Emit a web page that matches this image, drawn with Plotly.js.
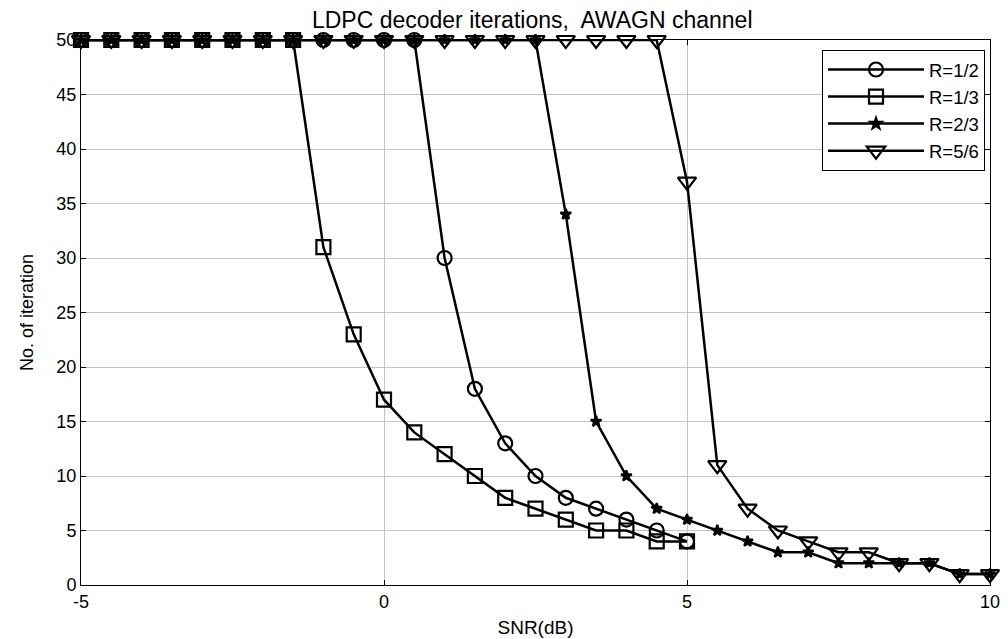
<!DOCTYPE html>
<html>
<head>
<meta charset="utf-8">
<script src="https://cdn.plot.ly/plotly-3.0.1.min.js"></script>
<style>html,body{margin:0;padding:0;background:#fff;}#chart{width:1008px;height:639px;}</style>
</head>
<body>
<div id="chart"></div>
<script>
// SNR (dB) values
const snrR12 = [-5,-4.5,-4,-3.5,-3,-2.5,-2,-1.5,-1,-0.5,0,0.5,1,1.5,2,2.5,3,3.5,4,4.5,5];
const iterR12 = [50,50,50,50,50,50,50,50,50,50,50,50,30,18,13,10,8,7,6,5,4];

const snrR13 = [-5,-4.5,-4,-3.5,-3,-2.5,-2,-1.5,-1,-0.5,0,0.5,1,1.5,2,2.5,3,3.5,4,4.5,5];
const iterR13 = [50,50,50,50,50,50,50,50,31,23,17,14,12,10,8,7,6,5,5,4,4];

const snrR23 = [-5,-4.5,-4,-3.5,-3,-2.5,-2,-1.5,-1,-0.5,0,0.5,1,1.5,2,2.5,3,3.5,4,4.5,5,5.5,6,6.5,7,7.5,8,8.5,9,9.5,10];
const iterR23 = [50,50,50,50,50,50,50,50,50,50,50,50,50,50,50,50,34,15,10,7,6,5,4,3,3,2,2,2,2,1,1];

const snrR56 = [-5,-4.5,-4,-3.5,-3,-2.5,-2,-1.5,-1,-0.5,0,0.5,1,1.5,2,2.5,3,3.5,4,4.5,5,5.5,6,6.5,7,7.5,8,8.5,9,9.5,10];
const iterR56 = [50,50,50,50,50,50,50,50,50,50,50,50,50,50,50,50,50,50,50,50,37,11,7,5,4,3,3,2,2,1,1];

const seriesNames = ['R=1/2','R=1/3','R=2/3','R=5/6'];
const xTickVals = [-5,0,5,10];
const yTickVals = [0,5,10,15,20,25,30,35,40,45,50];

const lineStyle = {color:'#000', width:2.5};
function mk(x,y,name,symbol,size){
  return {x:x, y:y, name:name, type:'scatter', mode:'lines+markers',
    line:lineStyle, cliponaxis:false,
    marker:{symbol:symbol, size:size, color:'#000', line:{color:'#000', width:2.2}}};
}
const traces = [
  mk(snrR12, iterR12, seriesNames[0], 'circle-open', 14),
  mk(snrR13, iterR13, seriesNames[1], 'square-open', 14),
  mk(snrR23, iterR23, seriesNames[2], 'star', 8),
  mk(snrR56, iterR56, seriesNames[3], 'triangle-down-open', 16)
];

const font = {family:'"Liberation Sans", Arial, sans-serif', color:'#000'};
const layout = {
  width:1008, height:639,
  margin:{l:81, r:18, t:40, b:54},
  paper_bgcolor:'#fff', plot_bgcolor:'#fff',
  font:Object.assign({size:18}, font),
  title:{text:'LDPC decoder iterations,  AWAGN channel', x:0.528, xanchor:'center', y:0.969, yanchor:'middle',
    font:Object.assign({size:23}, font)},
  xaxis:{range:[-5,10], tickvals:xTickVals, ticktext:xTickVals.map(String),
    showgrid:true, gridcolor:'#c4c4c4', gridwidth:1, zeroline:false,
    showline:true, linecolor:'#000', linewidth:1, mirror:'ticks',
    ticks:'inside', ticklen:5, tickcolor:'#000', tickfont:Object.assign({size:18}, font),
    title:{text:'SNR(dB)', standoff:10, font:Object.assign({size:19}, font)}},
  yaxis:{range:[0,50], tickvals:yTickVals, ticktext:yTickVals.map(String),
    showgrid:true, gridcolor:'#c4c4c4', gridwidth:1, zeroline:false,
    showline:true, linecolor:'#000', linewidth:1, mirror:'ticks',
    ticks:'inside', ticklen:5, tickcolor:'#000', tickfont:Object.assign({size:18}, font),
    title:{text:'No. of iteration', standoff:18, font:Object.assign({size:18}, font)}},
  showlegend:true,
  legend:{x:0.9945, y:0.9817, xanchor:'right', yanchor:'top', bgcolor:'#fff',
    bordercolor:'#000', borderwidth:1, font:Object.assign({size:18.5}, font),
    itemwidth:96, tracegroupgap:0}
};
Plotly.newPlot('chart', traces, layout, {displayModeBar:false, staticPlot:true});
</script>
</body>
</html>
